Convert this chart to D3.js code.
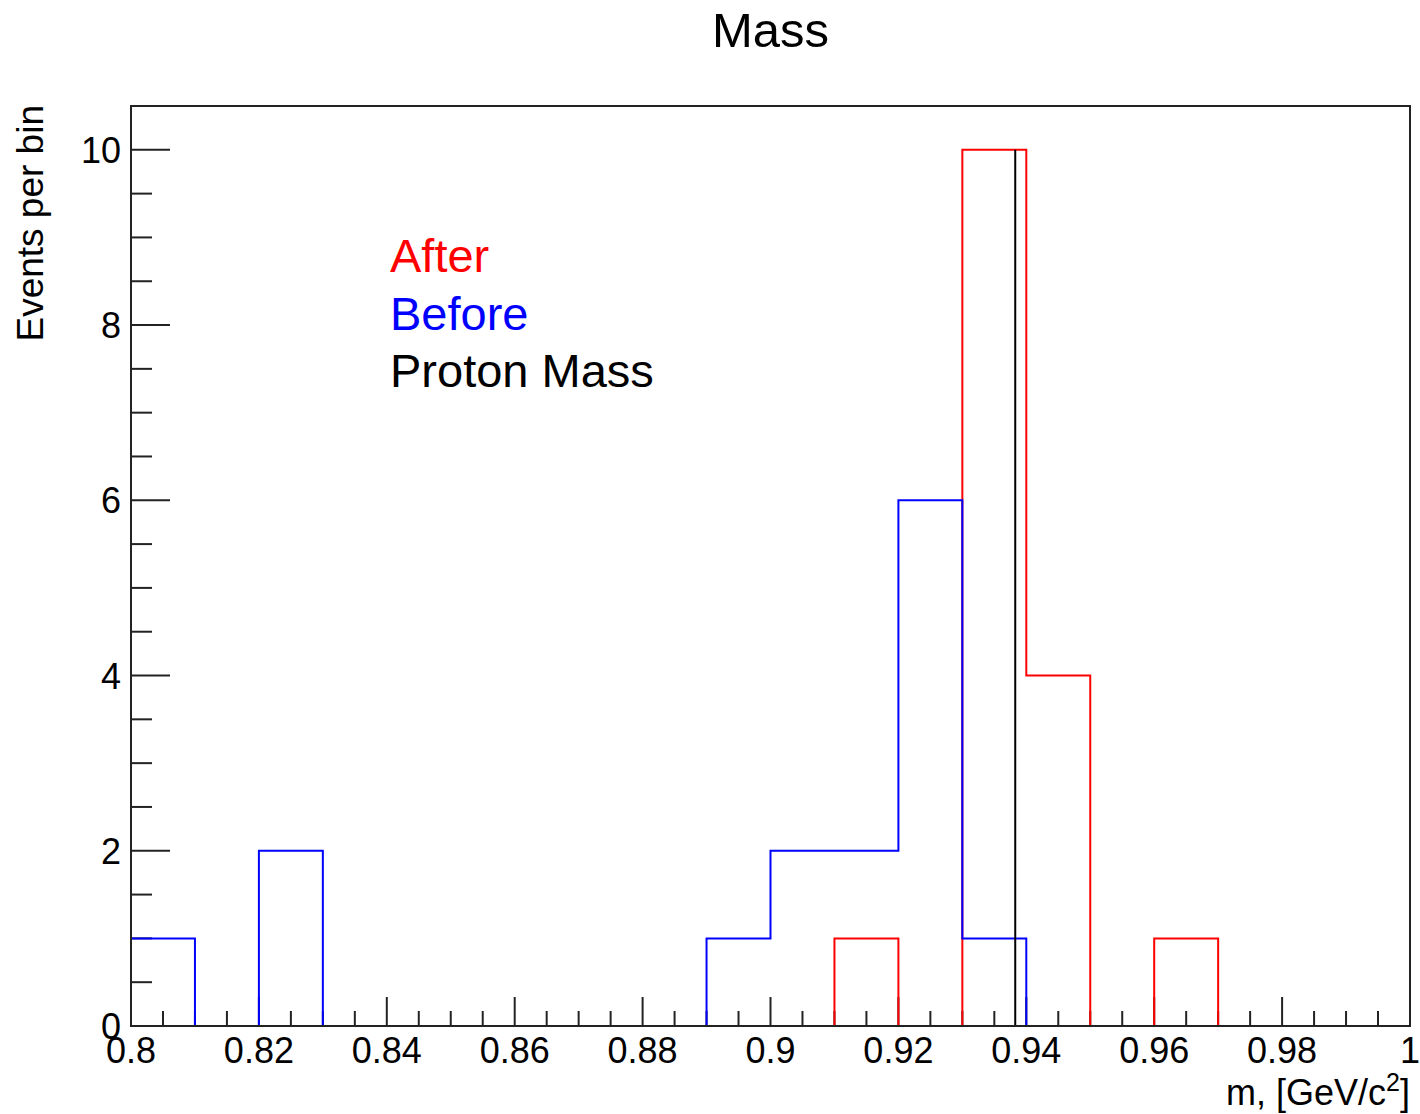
<!DOCTYPE html>
<html><head><meta charset="utf-8">
<script src="https://cdn.jsdelivr.net/npm/d3@7"></script>
<style>
html,body{margin:0;padding:0;background:#fff;}
text{font-family:"Liberation Sans",Arial,Helvetica,sans-serif;}
</style></head>
<body>
<svg id="c" width="1420" height="1114"></svg>
<script>
// ---- data ----
const binLow = [0.80,0.81,0.82,0.83,0.84,0.85,0.86,0.87,0.88,0.89,0.90,0.91,0.92,0.93,0.94,0.95,0.96,0.97,0.98,0.99];
const binWidth = 0.01;
const beforeCounts = [1,0,2,0,0,0,0,0,0,1,2,2,6,1,0,0,0,0,0,0];
const afterCounts  = [0,0,0,0,0,0,0,0,0,0,0,1,0,10,4,0,1,0,0,0];
const protonMass = 0.93827;
const protonHeight = 10;
const xMajorTicks = [0.8,0.82,0.84,0.86,0.88,0.9,0.92,0.94,0.96,0.98,1];
const xTickLabels = ["0.8","0.82","0.84","0.86","0.88","0.9","0.92","0.94","0.96","0.98","1"];
const yMajorTicks = [0,2,4,6,8,10];
const xDomain = [0.8,1.0];
const yDomain = [0,10.5];
const legendItems = [
  {label:"After", color:"#ff0000"},
  {label:"Before", color:"#0000ff"},
  {label:"Proton Mass", color:"#000000"}
];

// ---- layout ----
const L=131, R=1410, T=106, B=1026;
const svg = d3.select("#c");
const x = d3.scaleLinear().domain(xDomain).range([L,R]);
const y = d3.scaleLinear().domain(yDomain).range([B,T]);

// minor ticks
const xMinor = d3.range(0,41).map(i=>0.8+i*0.005).filter(v=>!xMajorTicks.some(m=>Math.abs(m-v)<1e-9));
const yMinor = d3.range(0,22).map(i=>i*0.5).filter(v=>v<=10.5 && !yMajorTicks.includes(v));

const axisColor="#222";
const ax = svg.append("g");
ax.selectAll(".xmaj").data(xMajorTicks).join("line")
  .attr("x1",d=>x(d)).attr("x2",d=>x(d)).attr("y1",B).attr("y2",B-29)
  .attr("stroke",axisColor).attr("stroke-width",2);
ax.selectAll(".xmin").data(xMinor).join("line")
  .attr("x1",d=>x(d)).attr("x2",d=>x(d)).attr("y1",B).attr("y2",B-15)
  .attr("stroke",axisColor).attr("stroke-width",2);
ax.selectAll(".ymaj").data(yMajorTicks).join("line")
  .attr("x1",L).attr("x2",L+39).attr("y1",d=>y(d)).attr("y2",d=>y(d))
  .attr("stroke",axisColor).attr("stroke-width",2);
ax.selectAll(".ymin").data(yMinor).join("line")
  .attr("x1",L).attr("x2",L+21).attr("y1",d=>y(d)).attr("y2",d=>y(d))
  .attr("stroke",axisColor).attr("stroke-width",2);

// tick labels
svg.append("g").selectAll("text").data(xMajorTicks).join("text")
  .attr("x",d=>x(d)).attr("y",1063).attr("text-anchor","middle")
  .attr("font-size",36).attr("fill","#000").text((d,i)=>xTickLabels[i]);
svg.append("g").selectAll("text").data(yMajorTicks).join("text")
  .attr("x",121).attr("y",d=>y(d)+13).attr("text-anchor","end")
  .attr("font-size",36).attr("fill","#000").text(d=>d);

// histograms
function stepPoints(counts){
  const pts=[[binLow[0],0]];
  counts.forEach((c,i)=>{ pts.push([binLow[i],c]); pts.push([binLow[i]+binWidth,c]); });
  pts.push([binLow[binLow.length-1]+binWidth,0]);
  return pts;
}
const line = d3.line().x(d=>x(d[0])).y(d=>y(d[1]));
svg.append("path").attr("d",line(stepPoints(afterCounts)))
  .attr("fill","none").attr("stroke","#ff0000").attr("stroke-width",2);
svg.append("path").attr("d",line(stepPoints(beforeCounts)))
  .attr("fill","none").attr("stroke","#0000ff").attr("stroke-width",2);
svg.append("line").attr("x1",x(protonMass)).attr("x2",x(protonMass))
  .attr("y1",y(0)).attr("y2",y(protonHeight)).attr("stroke","#000").attr("stroke-width",2);

// frame
svg.append("rect").attr("x",L).attr("y",T).attr("width",R-L).attr("height",B-T)
  .attr("fill","none").attr("stroke",axisColor).attr("stroke-width",2);

// title
svg.append("text").attr("x",(L+R)/2).attr("y",47).attr("text-anchor","middle")
  .attr("font-size",49).attr("fill","#000").text("Mass");

// axis titles
svg.append("text").attr("transform","translate(43,105) rotate(-90)")
  .attr("text-anchor","end").attr("font-size",37).attr("fill","#000").text("Events per bin");
const xt = svg.append("text").attr("x",1410).attr("y",1105).attr("text-anchor","end")
  .attr("font-size",36).attr("fill","#000");
xt.append("tspan").text("m, [GeV/c");
xt.append("tspan").attr("dy",-14).attr("font-size",25).text("2");
xt.append("tspan").attr("dy",14).text("]");

// legend
svg.append("g").selectAll("text").data(legendItems).join("text")
  .attr("x",390).attr("y",(d,i)=>272+i*57.5).attr("font-size",47)
  .attr("fill",d=>d.color).text(d=>d.label);
</script>
</body></html>
